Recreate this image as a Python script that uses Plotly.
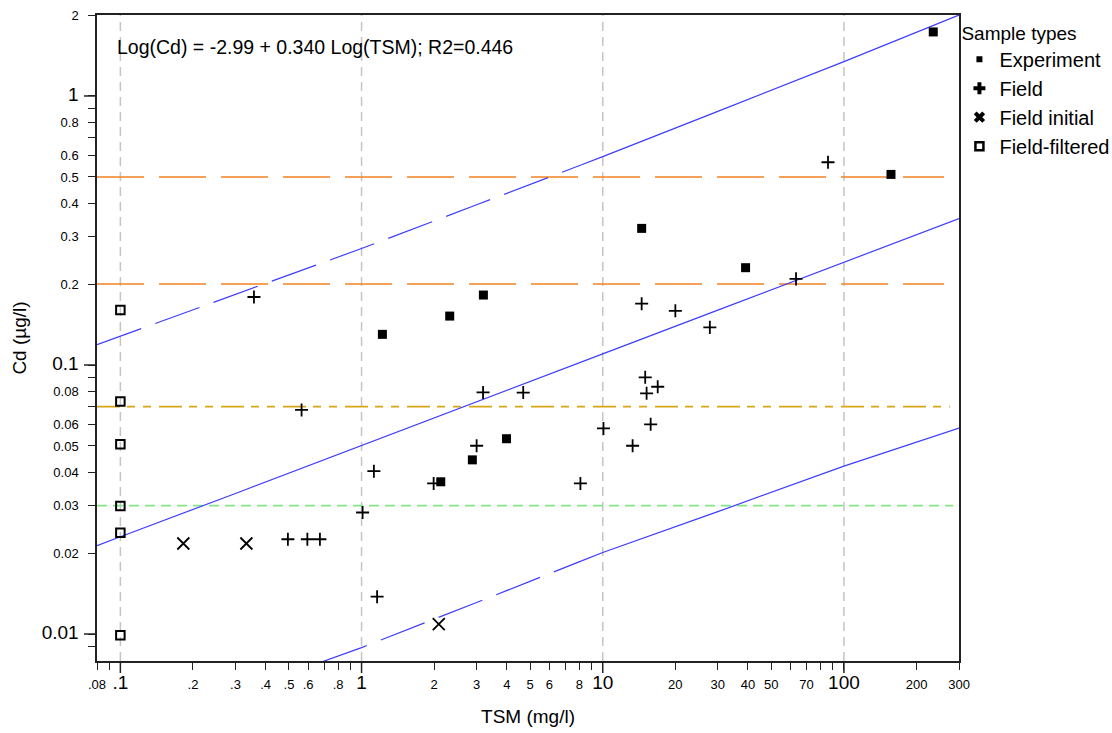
import plotly.graph_objects as go

# ---------------- data ----------------
exp_tsm = [234.6, 156.7, 14.5, 39.1, 3.20, 2.32, 1.22, 3.99, 2.88, 2.13]
exp_cd = [1.73, 0.511, 0.322, 0.230, 0.182, 0.152, 0.130, 0.0532, 0.0444, 0.0368]

field_tsm = [85.9, 63.3, 14.5, 20.0, 27.8, 0.358, 15.0, 16.9, 15.2, 3.19, 4.68, 0.564,
             15.8, 10.07, 13.3, 3.0, 1.125, 1.99, 8.08, 1.01, 0.495, 0.596, 0.672, 1.16]
field_cd = [0.567, 0.209, 0.169, 0.159, 0.138, 0.179, 0.090, 0.083, 0.0785, 0.0791, 0.079, 0.0681,
            0.0602, 0.0581, 0.0501, 0.0501, 0.0403, 0.0363, 0.0363, 0.0283, 0.0225, 0.0225, 0.0225, 0.01377]

init_tsm = [0.1824, 0.333, 2.09]
init_cd = [0.0217, 0.0217, 0.01089]

filt_tsm = [0.1, 0.1, 0.1, 0.1, 0.1, 0.1]
filt_cd = [0.160, 0.0731, 0.0507, 0.0299, 0.0238, 0.0099]

# regression line and prediction band
fit_tsm = [0.08, 0.1, 0.3, 1, 3, 10, 30, 100, 300]
fit_cd = [0.0213, 0.0230, 0.0333, 0.0503, 0.0730, 0.110, 0.160, 0.241, 0.350]

upper_dash_tsm = [0.08, 0.1, 0.3, 1, 3, 8.17]
upper_dash_cd = [0.119, 0.128, 0.183, 0.271, 0.394, 0.555]
upper_solid_tsm = [8.17, 10, 30, 100, 300]
upper_solid_cd = [0.555, 0.595, 0.877, 1.342, 2.0]

lower_dash_tsm = [0.69, 1, 3, 8.17]
lower_dash_cd = [0.0079, 0.0089, 0.0131, 0.0187]
lower_solid_tsm = [8.17, 10, 30, 100, 300]
lower_solid_cd = [0.0187, 0.0201, 0.0285, 0.0421, 0.0583]

# reference levels
ref_levels = [0.5, 0.2, 0.07, 0.03]
ref_end_tsm = [260, 260, 275, 284]
ref_colors = ["#f28324", "#f28324", "#d6a615", "#86e486"]
ref_dash = ["47px,15px", "47px,15px", "23px,7px,8px,8px,8px,8px", "10px,6px"]

grid_tsm = [0.1, 1, 10, 100]
decade_cd = [0.01, 0.1, 1]

x_tickvals = [0.08, 0.1, 0.2, 0.3, 0.4, 0.5, 0.6, 0.8, 1, 2, 3, 4, 5, 6, 8,
              10, 20, 30, 40, 50, 70, 100, 200, 300]
x_ticklabels = [".08", ".1", ".2", ".3", ".4", ".5", ".6", ".8", "1", "2", "3", "4", "5", "6", "8",
                "10", "20", "30", "40", "50", "70", "100", "200", "300"]
x_minor = [0.09, 0.7, 0.9, 7, 9, 60, 80, 90]

y_tickvals = [0.01, 0.02, 0.03, 0.04, 0.05, 0.06, 0.08, 0.1, 0.2, 0.3, 0.4, 0.5, 0.6, 0.8, 1, 2]
y_ticklabels = ["0.01", "0.02", "0.03", "0.04", "0.05", "0.06", "0.08", "0.1", "0.2", "0.3",
                "0.4", "0.5", "0.6", "0.8", "1", "2"]
y_minor = [0.009, 0.07, 0.09, 0.7, 0.9]

BIG = 19
FONT = "Liberation Sans, Arial, sans-serif"


def fmt(vals, labels, bigs):
    out = []
    for v, l in zip(vals, labels):
        if v in bigs:
            out.append("<span style='font-size:%dpx'>%s</span>" % (BIG, l))
        else:
            out.append(l)
    return out


x_ticktext = fmt(x_tickvals, x_ticklabels, grid_tsm)
y_ticktext = fmt(y_tickvals, y_ticklabels, decade_cd)

BLUE = "#3d3dff"

fig = go.Figure()

# prediction band + fit
band_style = dict(mode="lines", hoverinfo="skip", showlegend=False)
fig.add_trace(go.Scatter(x=upper_dash_tsm, y=upper_dash_cd, line=dict(color=BLUE, width=1.2, dash="47px,15px"), **band_style))
fig.add_trace(go.Scatter(x=upper_solid_tsm, y=upper_solid_cd, line=dict(color=BLUE, width=1.2), **band_style))
fig.add_trace(go.Scatter(x=lower_dash_tsm, y=lower_dash_cd, line=dict(color=BLUE, width=1.2, dash="47px,15px"), **band_style))
fig.add_trace(go.Scatter(x=lower_solid_tsm, y=lower_solid_cd, line=dict(color=BLUE, width=1.2), **band_style))
fig.add_trace(go.Scatter(x=fit_tsm, y=fit_cd, line=dict(color=BLUE, width=1.2), **band_style))

# data points
fig.add_trace(go.Scatter(x=exp_tsm, y=exp_cd, mode="markers", showlegend=False,
                         marker=dict(symbol="square", size=9, color="black")))
fig.add_trace(go.Scatter(x=field_tsm, y=field_cd, mode="markers", showlegend=False,
                         marker=dict(symbol="cross-thin-open", size=9.3, color="black",
                                     line=dict(width=1.8, color="black"))))
fig.add_trace(go.Scatter(x=init_tsm, y=init_cd, mode="markers", showlegend=False,
                         marker=dict(symbol="x-thin-open", size=12, color="black",
                                     line=dict(width=1.8, color="black"))))
fig.add_trace(go.Scatter(x=filt_tsm, y=filt_cd, mode="markers", showlegend=False,
                         marker=dict(symbol="square-open", size=8.5, color="black",
                                     line=dict(width=2, color="black"))))

# legend-only entries
fig.add_trace(go.Scatter(x=[None], y=[None], mode="markers", name="Experiment",
                         marker=dict(symbol="square", size=6, color="black")))
fig.add_trace(go.Scatter(x=[None], y=[None], mode="markers", name="Field",
                         marker=dict(symbol="cross", size=10, color="black")))
fig.add_trace(go.Scatter(x=[None], y=[None], mode="markers", name="Field initial",
                         marker=dict(symbol="x", size=10, color="black")))
fig.add_trace(go.Scatter(x=[None], y=[None], mode="markers", name="Field-filtered",
                         marker=dict(symbol="square-open", size=8, color="black",
                                     line=dict(width=2.5, color="black"))))

shapes = []
for g in grid_tsm:
    shapes.append(dict(type="line", xref="x", yref="paper", x0=g, x1=g, y0=0, y1=1,
                       line=dict(color="#c4c4c4", width=1.5, dash="9px,6px"), layer="below"))
for lvl, xe, c, d in zip(ref_levels, ref_end_tsm, ref_colors, ref_dash):
    shapes.append(dict(type="line", xref="x", yref="y", x0=x_tickvals[0], x1=xe, y0=lvl, y1=lvl,
                       line=dict(color=c, width=1.6, dash=d), layer="below"))
# longer decade tick marks
for g in grid_tsm:
    shapes.append(dict(type="line", xref="x", yref="paper", x0=g, x1=g, y0=0, y1=-12 / 646,
                       line=dict(color="#222", width=1.5)))
for d in decade_cd:
    shapes.append(dict(type="line", xref="paper", yref="y", x0=-13 / 862, x1=0, y0=d, y1=d,
                       line=dict(color="#222", width=1.5)))

fig.update_layout(
    width=1112, height=733,
    margin=dict(l=97, r=153, t=15, b=72, autoexpand=False),
    paper_bgcolor="white", plot_bgcolor="white",
    font=dict(family=FONT, color="black", size=13),
    shapes=shapes,
    showlegend=True,
    legend=dict(x=1.0005, y=1.0, xanchor="left", yanchor="top",
                title=dict(text="Sample types", font=dict(size=19)),
                font=dict(size=20), tracegroupgap=0, itemwidth=30,
                bgcolor="rgba(0,0,0,0)"),
    annotations=[dict(text="Log(Cd) = -2.99 + 0.340 Log(TSM); R2=0.446",
                      xref="paper", yref="paper", x=0.021, y=0.9505,
                      xanchor="left", yanchor="middle", showarrow=False,
                      font=dict(size=19.5, family=FONT, color="black"))],
)

fig.update_xaxes(
    type="log", range=[-1.0969, 2.4771], automargin=False,
    tickmode="array", tickvals=x_tickvals, ticktext=x_ticktext,
    ticks="outside", ticklen=7, tickwidth=1.3, tickcolor="#222",
    tickfont=dict(size=13, family=FONT, color="black"),
    ticklabelstandoff=4,
    showgrid=False, zeroline=False,
    showline=True, linecolor="#222", linewidth=1.5, mirror=True,
    minor=dict(tickvals=x_minor, ticks="outside", ticklen=7, tickwidth=1.3,
               tickcolor="#222", showgrid=False),
    title=dict(text="TSM (mg/l)", font=dict(size=19, family=FONT), standoff=17),
)
fig.update_yaxes(
    type="log", range=[-2.1003, 0.30103], automargin=False,
    tickmode="array", tickvals=y_tickvals, ticktext=y_ticktext,
    ticks="outside", ticklen=7, tickwidth=1.3, tickcolor="#222",
    tickfont=dict(size=13, family=FONT, color="black"),
    ticklabelstandoff=7,
    showgrid=False, zeroline=False,
    showline=True, linecolor="#222", linewidth=1.5, mirror=True,
    minor=dict(tickvals=y_minor, ticks="outside", ticklen=7, tickwidth=1.3,
               tickcolor="#222", showgrid=False),
    title=dict(text="Cd (µg/l)", font=dict(size=19, family=FONT), standoff=10),
)

fig.write_html("out.html", config={"displayModeBar": False},
               post_script="document.body.style.margin='0';document.body.style.overflow='hidden';")
